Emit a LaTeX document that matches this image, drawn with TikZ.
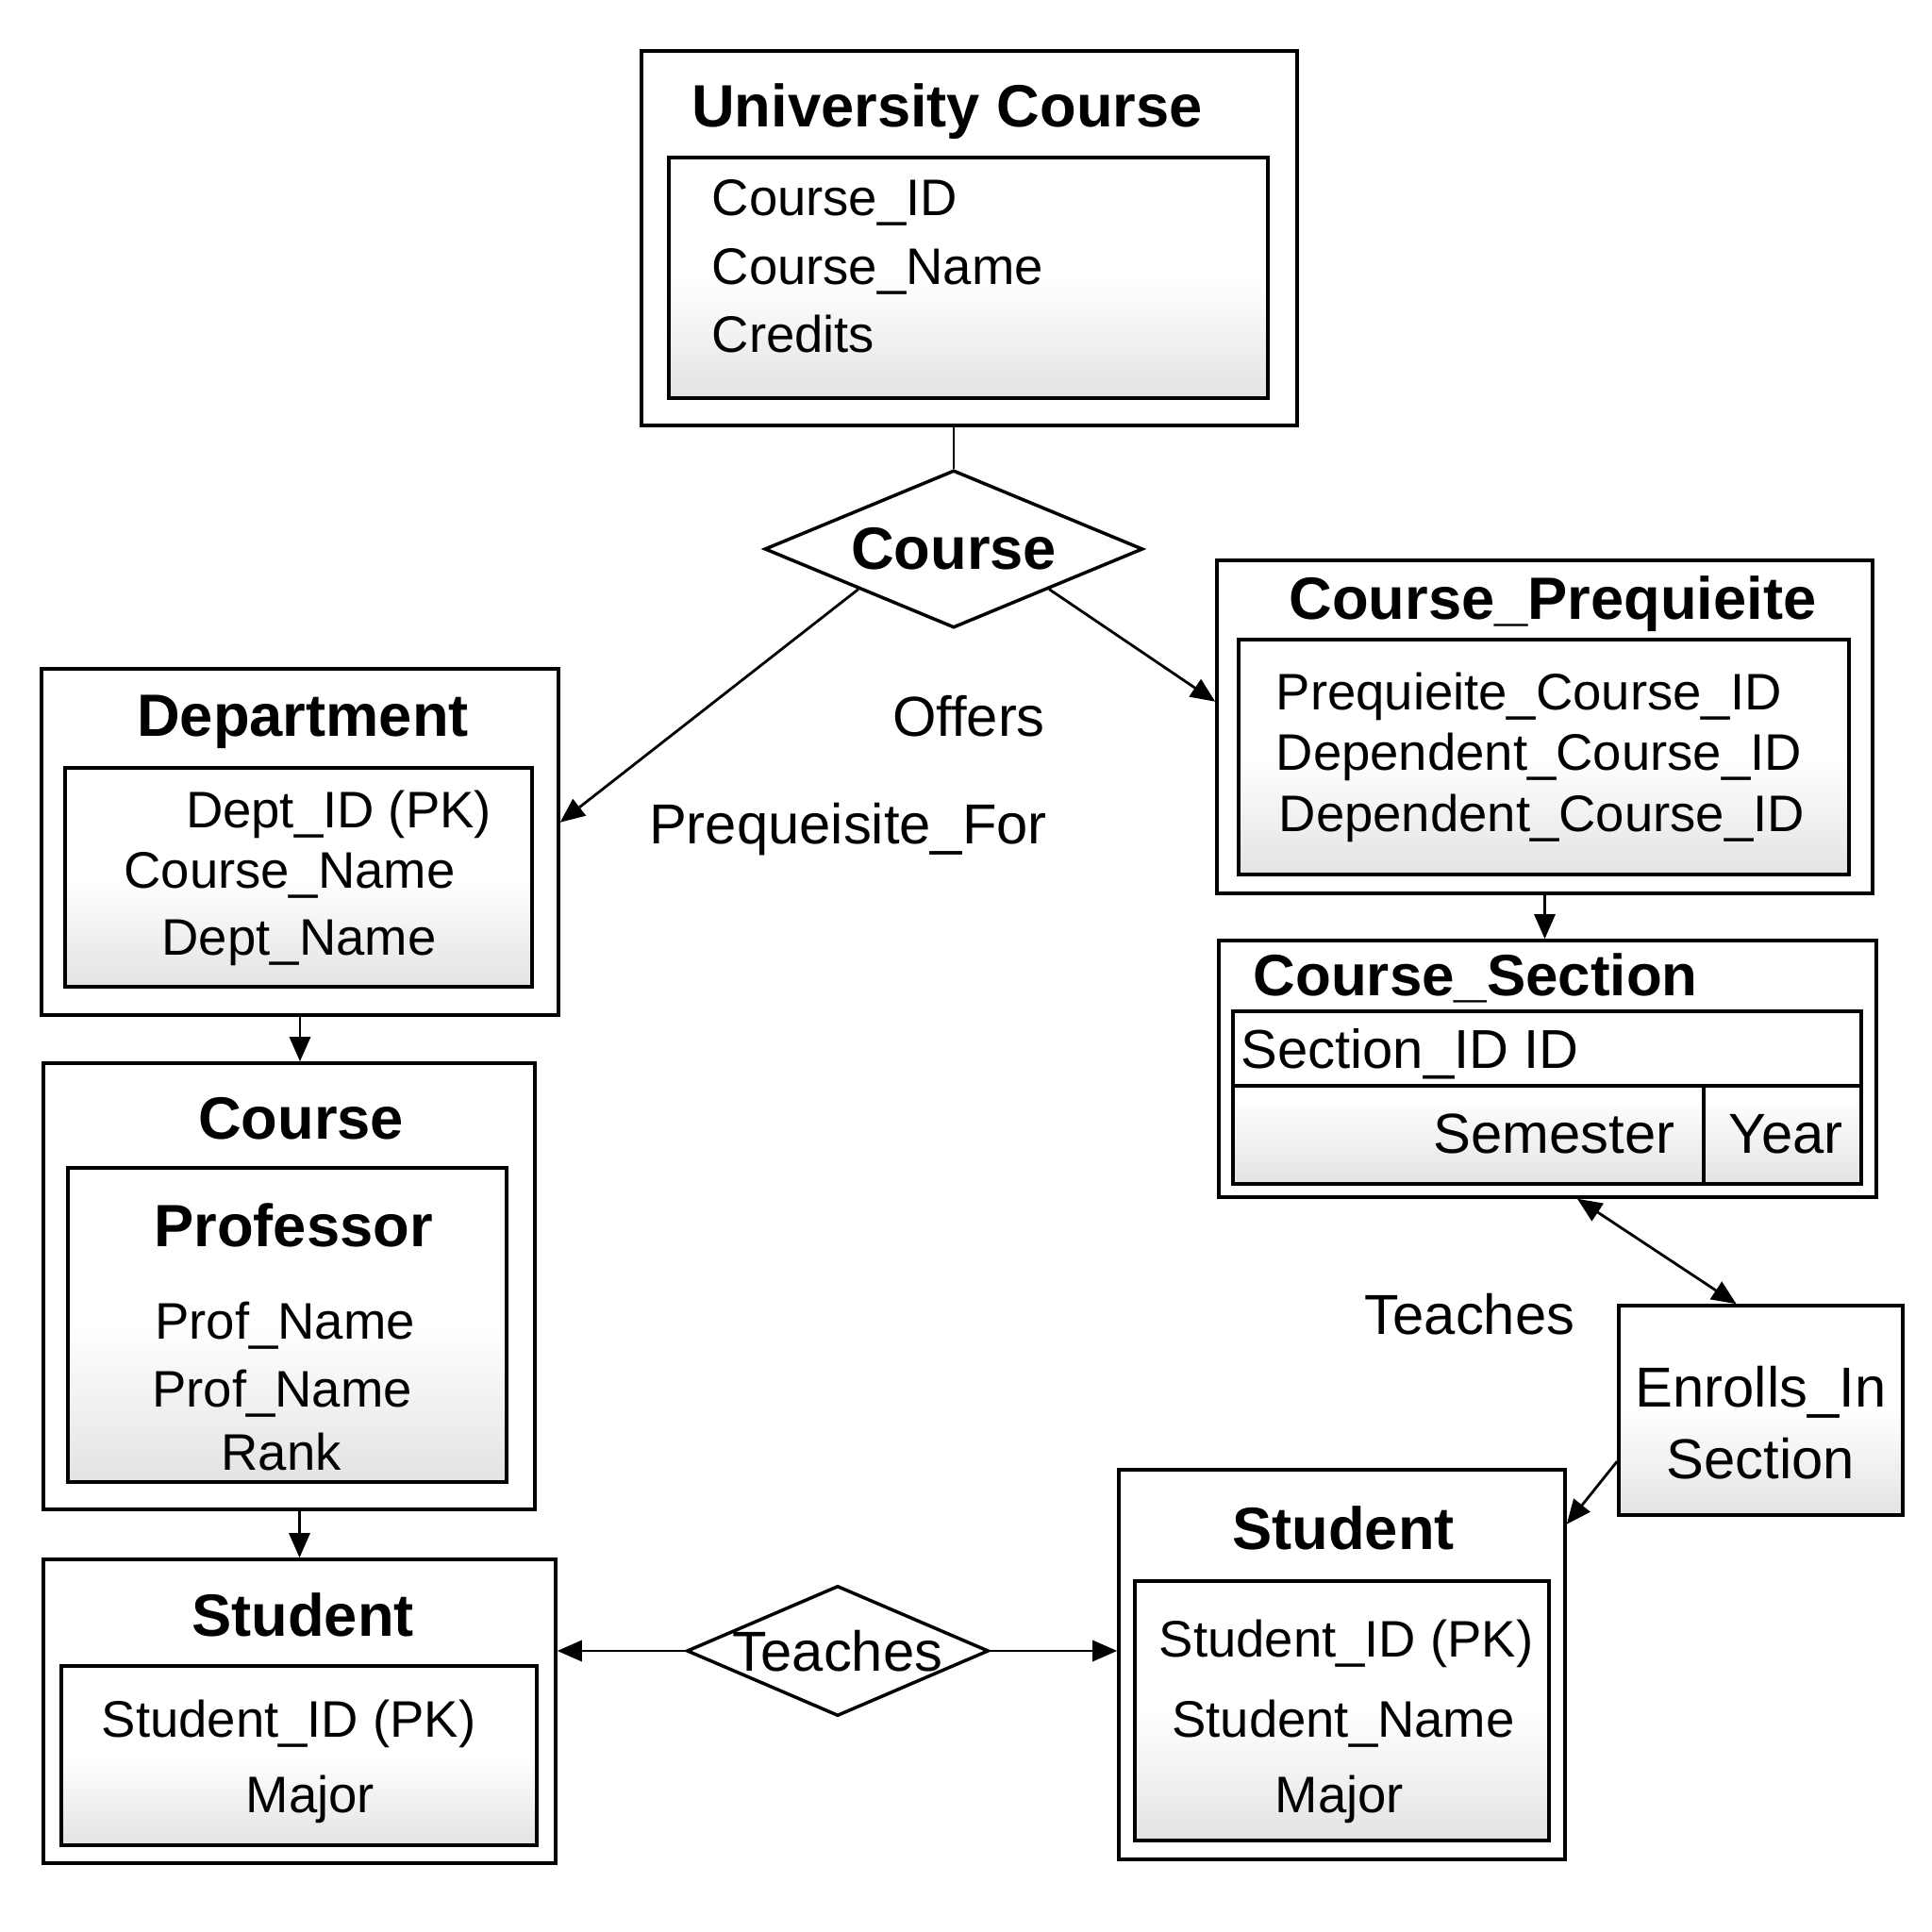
\documentclass[tikz,border=0pt]{standalone}
\usepackage{fontspec}
\setmainfont{Liberation Sans}
\usetikzlibrary{calc, shapes.geometric, arrows.meta, positioning}

\begin{document}
\begin{tikzpicture}[
    outer/.style={draw, line width=1pt, inner sep=0pt},
    inner/.style={draw, line width=1pt, inner sep=0pt, top color=white, bottom color=black!11, middle color=white},
    ttl/.style={font=\fontsize{18}{22}\selectfont\bfseries, inner sep=0pt, anchor=mid, yshift=-1mm},
    attr/.style={font=\fontsize{15.5}{19}\selectfont, inner sep=0pt, anchor=mid, yshift=-1mm},
    lbl/.style={font=\fontsize{17}{21}\selectfont, inner sep=0pt, anchor=mid, yshift=-1mm},
    rel/.style={diamond, draw, line width=1pt, inner sep=0pt, aspect=2},
    arrow/.style={line width=0.8pt, -{Triangle[length=2.6mm, width=2.2mm]}},
    dblarrow/.style={line width=0.8pt, {Triangle[length=2.6mm, width=2.2mm]}-{Triangle[length=2.6mm, width=2.2mm]}}
]
    \useasboundingbox (0,0) rectangle (20.48,20.48);

    % University Course
    \node [outer, minimum width=6.95cm, minimum height=3.97cm] (uc) at (10.275, 17.955) {};
    \node [inner, minimum width=6.35cm, minimum height=2.55cm] (uc-in) at (10.265, 17.535) {};
    \node [ttl] (uc-t) at (10.04, 19.33) {University Course};
    \node [attr, anchor=mid west] (uc-a1) at (7.54, 18.39) {Course\_ID};
    \node [attr, anchor=mid west] (uc-a2) at (7.54, 17.66) {Course\_Name};
    \node [attr, anchor=mid west] (uc-a3) at (7.54, 16.94) {Credits};

    % relationship diamond
    \node [rel, minimum width=4.01cm, minimum height=1.67cm, font=\fontsize{18}{22}\selectfont\bfseries] (crs) at (10.11, 14.66) {\makebox[0pt]{Course}};
    \node [lbl] (offers) at (10.27, 12.87) {Offers};
    \node [lbl] (prefor) at (8.99, 11.73) {Prequeisite\_For};

    % Course_Prequieite
    \node [outer, minimum width=6.95cm, minimum height=3.53cm] (pre) at (16.375, 12.775) {};
    \node [inner, minimum width=6.47cm, minimum height=2.49cm] (pre-in) at (16.365, 12.455) {};
    \node [ttl] (pre-t) at (16.46, 14.11) {Course\_Prequieite};
    \node [attr, anchor=mid west] (pre-a1) at (13.52, 13.15) {Prequieite\_Course\_ID};
    \node [attr, anchor=mid west] (pre-a2) at (13.52, 12.51) {Dependent\_Course\_ID};
    \node [attr, anchor=mid west] (pre-a3) at (13.55, 11.86) {Dependent\_Course\_ID};

    % Course_Section
    \node [outer, minimum width=6.97cm, minimum height=2.72cm] (sec) at (16.405, 9.15) {};
    \node [inner, minimum width=6.66cm, minimum height=1.83cm] (sec-in) at (16.40, 8.845) {};
    \node [ttl, anchor=mid west, font=\fontsize{17.6}{22}\selectfont\bfseries] (sec-t) at (13.28, 10.12) {Course\_Section};
    \draw [line width=1pt] ($(sec-in.north west)!0.432!(sec-in.south west)$) -- ($(sec-in.north east)!0.432!(sec-in.south east)$);
    \draw [line width=1pt] ($(sec-in.south west)!0.748!(sec-in.south east)$) -- ++(0, 1.04);
    \node [lbl, font=\fontsize{16.5}{20}\selectfont, anchor=mid west] (sec-a1) at (13.15, 9.35) {Section\_ID ID};
    \node [lbl, anchor=mid east] (sec-a2) at (17.76, 8.45) {Semester};
    \node [lbl] (sec-a3) at (18.93, 8.45) {Year};

    % Enrolls_In
    \node [inner, minimum width=3.01cm, minimum height=2.22cm, align=center, font=\fontsize{17}{21.6}\selectfont] (enr) at (18.665, 5.53) {\rule{0pt}{20pt}Enrolls\_In\\Section};
    \node [lbl] (teach-l) at (15.58, 6.53) {Teaches};

    % Department
    \node [outer, minimum width=5.48cm, minimum height=3.67cm] (dept) at (3.18, 11.555) {};
    \node [inner, minimum width=4.95cm, minimum height=2.32cm] (dept-in) at (3.165, 11.18) {};
    \node [ttl] (dept-t) at (3.21, 12.87) {Department};
    \node [attr] (dept-a1) at (3.59, 11.90) {Dept\_ID (PK)};
    \node [attr] (dept-a2) at (3.07, 11.26) {Course\_Name};
    \node [attr] (dept-a3) at (3.17, 10.55) {Dept\_Name};

    % Course / Professor
    \node [outer, minimum width=5.21cm, minimum height=4.73cm] (course) at (3.065, 6.845) {};
    \node [inner, minimum width=4.65cm, minimum height=3.33cm] (course-in) at (3.045, 6.435) {};
    \node [ttl] (course-t) at (3.19, 8.60) {Course};
    \node [ttl] (prof-t) at (3.11, 7.46) {Professor};
    \node [attr] (prof-a1) at (3.02, 6.48) {Prof\_Name};
    \node [attr] (prof-a2) at (2.99, 5.76) {Prof\_Name};
    \node [attr] (prof-a3) at (2.98, 5.09) {Rank};

    % Student (left)
    \node [outer, minimum width=5.43cm, minimum height=3.22cm] (lstud) at (3.175, 2.34) {};
    \node [inner, minimum width=5.04cm, minimum height=1.90cm] (lstud-in) at (3.17, 1.87) {};
    \node [ttl] (lstud-t) at (3.21, 3.33) {Student};
    \node [attr] (lstud-a1) at (3.06, 2.26) {Student\_ID (PK)};
    \node [attr] (lstud-a2) at (3.29, 1.46) {Major};

    % Student (right)
    \node [outer, minimum width=4.73cm, minimum height=4.13cm] (rstud) at (14.225, 2.835) {};
    \node [inner, minimum width=4.39cm, minimum height=2.75cm] (rstud-in) at (14.225, 2.345) {};
    \node [ttl] (rstud-t) at (14.24, 4.25) {Student};
    \node [attr] (rstud-a1) at (14.27, 3.11) {Student\_ID (PK)};
    \node [attr] (rstud-a2) at (14.24, 2.26) {Student\_Name};
    \node [attr] (rstud-a3) at (14.20, 1.46) {Major};

    % Teaches diamond
    \node [rel, minimum width=3.20cm, minimum height=1.38cm, font=\fontsize{17}{21}\selectfont] (teach) at (8.88, 2.98) {\makebox[0pt]{Teaches}};

    % connectors
    \draw [line width=0.8pt] (crs.north |- uc.south) -- (crs.north);
    \draw [arrow] ($(crs.west)!0.5!(crs.south)$) -- ($(dept.north east)!0.444!(dept.south east)$);
    \draw [arrow] ($(crs.east)!0.5!(crs.south)$) -- ($(pre.north west)!0.425!(pre.south west)$);
    \draw [arrow] (pre.south) -- (pre.south |- sec.north);
    \draw [dblarrow] ($(sec.south west)!0.545!(sec.south east)$) -- ($(enr.north west)!0.415!(enr.north east)$);
    \draw [arrow] ($(enr.north west)!0.74!(enr.south west)$) -- ($(rstud.north east)!0.143!(rstud.south east)$);
    \draw [arrow] (dept.south) -- (dept.south |- course.north);
    \draw [arrow] (lstud.north |- course.south) -- (lstud.north);
    \draw [arrow] (teach.west) -- (teach.west -| lstud.east);
    \draw [arrow] (teach.east) -- (teach.east -| rstud.west);
\end{tikzpicture}
\end{document}
